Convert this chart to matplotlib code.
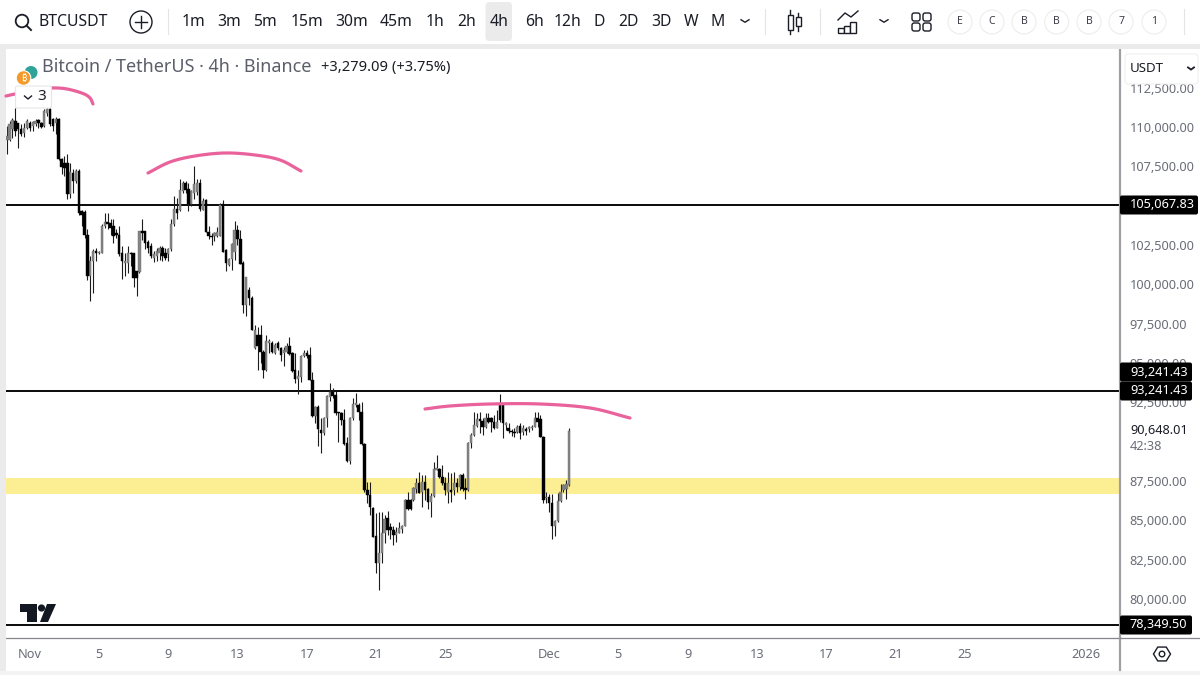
import numpy as np
import pandas as pd
import matplotlib
matplotlib.use("Agg")
import matplotlib.pyplot as plt
from matplotlib.patches import Rectangle, FancyBboxPatch, Circle, Polygon

plt.rcParams['font.family'] = ['Noto Sans', 'DejaVu Sans']

opens = [
109170,109210,109850,110380,110270,109850,109640,109960,110270,110060,
110170,110440,110270,110060,110910,111160,110490,110270,110530,107940,
107730,107730,105720,107090,106560,107200,104660,104590,103170,100520,
101480,102110,102010,102010,103700,103960,103910,103700,103280,103170,
102010,101370,101370,102010,102010,100840,100780,103380,103380,102680,
102430,101690,101790,102010,102320,102010,101960,102220,103810,104800,
104760,105930,106460,106080,105080,105820,105900,106460,104740,105340,
103360,103090,103050,103050,103090,105120,102200,101240,101600,102090,
103470,102880,101350,98700,99650,99120,95940,96790,96790,95730,
94570,96260,96300,95630,96260,95940,95630,95730,96110,95630,
94570,93990,94140,95420,95630,95520,93930,91630,92180,90740,
90530,91480,92860,93180,92960,91900,91840,91380,89890,88790,
91480,92330,92330,91900,89850,86930,86610,85760,84000,82260,
82900,84170,85130,84550,84380,84070,84210,84425,84640,86290,
86290,86290,86970,87350,86820,87460,86970,86190,86550,88220,
88240,87780,87390,86820,86930,86930,87350,87140,87880,87030,
86930,89890,90420,91010,91420,91330,90910,91520,91480,91270,
90850,92330,92330,91060,90850,90700,90630,90630,90990,90630,
90800,90780,90890,90950,91480,91420,90320,86390,86500,86120,
84630,84970,86250,86920,86970,87240]
highs = [
110060,110380,110590,111230,110270,110170,110270,110530,110380,110380,
110490,110530,110320,111120,111230,111230,110590,110650,110590,108050,
108150,108320,107730,107310,107310,107310,104760,104700,103490,101790,
102220,102320,102110,103810,104550,104550,104130,104170,103490,103700,
102430,102010,102430,102050,102010,100840,103380,104130,103380,102850,
102640,102110,102320,102430,102430,102320,102320,104130,105610,105500,
106670,106560,106560,106460,106030,107520,106670,106670,105480,105420,
103680,103260,103360,103640,105170,105340,102240,101670,102620,104060,
103790,103470,101460,100500,99820,99230,97430,97320,97430,95840,
96790,96520,96430,96260,96430,96050,96050,96260,96640,95730,
95630,94570,95520,95840,95840,96050,94460,92270,92330,91480,
91540,92960,93750,93390,93240,91900,91900,92050,90320,91540,
92750,93070,92430,92540,89890,87460,87460,85870,85440,85550,
85550,85340,85610,84810,84640,84600,84910,84700,86330,86820,
86330,87140,87670,88090,87880,87880,87030,86715,88730,89150,
88300,88520,87780,88090,87990,88090,87670,87950,87990,87670,
90000,90530,91860,91800,91860,91480,91800,91800,91540,91690,
92010,93030,92390,91270,91160,90780,90850,91060,91160,91060,
90950,90990,91060,91900,91860,91690,90360,86820,86670,86670,
85020,86710,87310,87310,87560,90890]
lows = [
108260,109110,109320,109430,108680,109430,109380,109850,109740,109740,
110060,109960,109960,110020,110700,110060,109740,109530,107900,106990,
106880,105440,105500,105820,106460,104440,103700,102960,100310,98930,
99460,101480,101900,102010,103600,103490,103170,102640,102960,101790,
100350,100520,100730,101160,99840,99250,100730,102850,102220,102010,
101690,101410,101480,101580,101480,101580,101480,102110,103700,104130,
104660,105820,105820,104660,105010,105400,105700,104660,104700,103320,
102880,102520,102730,103000,103050,102030,100820,101140,100930,101560,
102520,101270,98170,98000,98700,97070,95880,94570,94990,94040,
94520,95630,95630,95580,95840,95100,94820,95630,95520,94460,
93760,93040,93820,95370,95310,93890,91590,91160,89720,89260,
90420,90910,92600,92750,91690,90000,91060,89790,88730,88580,
91380,92220,91380,89790,86820,86080,85340,83960,81630,80570,
82260,83540,84070,83790,83430,83640,84170,84170,84640,85660,
85660,86250,86720,86710,85870,86290,85700,85190,86500,88200,
87670,87240,86610,86080,86190,86610,86820,86930,86880,86330,
86880,89570,90360,90950,90530,90420,90850,91200,90630,90780,
90850,91270,90210,90740,90570,90360,90320,90530,90150,90420,
90420,90630,90740,90910,90950,90270,86120,86080,85550,83790,
84000,84910,86180,86820,86330,87180]
closes = [
109430,110170,110440,109740,109850,109530,109960,110380,109960,110320,
110380,110270,110020,111020,111120,110170,110060,110530,107940,107480,
107410,105720,107140,106560,107200,104550,104440,103170,100520,101480,
102110,102010,102050,103700,103960,103810,103600,103070,103170,101900,
101480,101460,102010,101900,100420,100420,103380,103280,102640,102320,
101790,101900,102110,102320,101790,101690,102220,103810,104800,104550,
106030,106460,106030,105080,105930,106350,106460,104800,105270,103360,
103090,103000,103260,103300,105060,102090,101350,101600,102580,103470,
102880,101310,98700,100460,99120,97110,97110,96110,95730,94570,
96370,96430,95670,96160,95940,95520,95840,96110,95580,94520,
93990,94180,95460,95630,95420,93930,91630,92180,90780,90530,
91480,92900,93180,92900,91840,91840,91380,89850,88790,91480,
92390,92430,91900,89850,86920,86610,85870,83960,82260,82900,
84170,85060,84380,84380,84070,84280,84490,84640,86290,85700,
85700,87030,87350,86760,87460,86930,86190,86550,88240,88305,
87780,87350,86930,87350,86820,87350,87140,87880,86970,86930,
89890,90420,91060,91420,91330,90910,91480,91270,91270,90850,
91270,91400,91160,91160,90700,90590,90530,90950,90570,90850,
90700,90910,90950,91480,91270,90320,86290,86500,86120,84630,
84970,86250,86820,87240,87300,90648]

level_prices = [105067.83, 93241.43, 78349.50]
zone_low, zone_high = 86650, 87700
price_ticks = [80000, 82500, 85000, 87500, 92500, 95000, 97500, 100000,
               102500, 107500, 110000, 112500]
time_labels = {"2025-11-01": "Nov", "2025-11-05": "5", "2025-11-09": "9", "2025-11-13": "13",
               "2025-11-17": "17", "2025-11-21": "21", "2025-11-25": "25", "2025-12-01": "Dec",
               "2025-12-05": "5", "2025-12-09": "9", "2025-12-13": "13", "2025-12-17": "17",
               "2025-12-21": "21", "2025-12-25": "25", "2026-01-01": "2026"}
timeframes = ["1m", "3m", "5m", "15m", "30m", "45m", "1h", "2h", "4h", "6h", "12h", "D", "2D", "3D", "W", "M"]
timeframe_x = [193, 229, 265, 307, 352, 396, 435, 467, 499, 534, 567, 599, 628, 661, 691, 718]

n = len(closes)
times = pd.date_range(end="2025-12-02 04:00", periods=n, freq="4h")
bar_index = np.arange(n)
o, h, l, c = map(np.array, (opens, highs, lows, closes))

fig = plt.figure(figsize=(12, 6.75), dpi=100, facecolor="white")
ax = fig.add_axes([6/1200, 1-638/675, 1114/1200, 590/675], zorder=1)
ax.set_xlim(-0.24, 385.9)
ax.set_ylim(77520, 115027)

# zone and levels
ax.axhspan(zone_low, zone_high, color="#fcef93", lw=0, zorder=1)
for p in level_prices:
    ax.axhline(p, color="black", lw=1.35, zorder=2)

# candles
up = c >= o
ax.vlines(bar_index, l, h, color="#1c1c1c", lw=0.8, zorder=3)
ax.bar(bar_index[up], (c-o)[up], bottom=o[up], width=0.78, color="#858585",
       edgecolor="#6a6a6a", lw=0.3, zorder=4)
ax.bar(bar_index[~up], (c-o)[~up], bottom=o[~up], width=0.85, color="black",
       edgecolor="black", lw=0.3, zorder=4)

# axes
for s in ("top", "left"):
    ax.spines[s].set_visible(False)
ax.spines["bottom"].set_color("#85858c")
ax.spines["bottom"].set_linewidth(0.9)
ax.spines["right"].set_color("#a0a0a4")
ax.spines["right"].set_linewidth(1.6)
ax.yaxis.tick_right()
ax.set_yticks(price_ticks)
ax.set_yticklabels([f"{v:,.2f}" for v in price_ticks])
ax.tick_params(axis="y", length=0, pad=7, labelsize=9.2, labelcolor="#6a6d78")
tick_pos = [(pd.Timestamp(d) - times[0]) / pd.Timedelta(hours=4) for d in time_labels]
ax.set_xticks(tick_pos)
ax.set_xticklabels(list(time_labels.values()))
ax.tick_params(axis="x", length=0, pad=7, labelsize=9.2, labelcolor="#6a6d78")
ax.get_xticklabels()[-1].set_fontweight("bold")

# screenshot chrome in pixel space
ov = fig.add_axes([0, 0, 1, 1], zorder=2)
ov.set_xlim(0, 1200)
ov.set_ylim(675, 0)
ov.axis("off")
ov.patch.set_alpha(0)

ov.add_patch(Rectangle((0, 44), 1200, 4.5, color="#ebebeb", lw=0))
ov.add_patch(Rectangle((0, 44), 5.5, 631, color="#ebebeb", lw=0))
ov.add_patch(Rectangle((0, 671), 1200, 4, color="#f3f3f3", lw=0))
ov.plot([1119.5, 1119.5], [638, 670], color="#a0a0a4", lw=1.6)
ov.plot([1120, 1200], [638, 638], color="#85858c", lw=0.9)


def smooth(points, steps=16):
    p = np.array(points, float)
    p = np.vstack([2*p[0]-p[1], p, 2*p[-1]-p[-2]])
    out = []
    for i in range(1, len(p)-2):
        for t in np.linspace(0, 1, steps, endpoint=False):
            out.append(0.5*((2*p[i]) + (p[i+1]-p[i-1])*t
                            + (2*p[i-1]-5*p[i]+4*p[i+1]-p[i+2])*t**2
                            + (3*p[i]-p[i-1]-3*p[i+1]+p[i+2])*t**3))
    out.append(p[-2])
    return np.array(out)


arcs = [[(6, 96), (15, 94), (35, 90), (52, 88), (67, 89), (83, 93.5), (90, 98), (93, 104)],
        [(148, 173), (170, 162), (195, 156), (225, 153), (255, 155), (280, 160), (301, 171)],
        [(425, 409), (450, 406), (490, 404), (540, 404), (590, 408), (630, 418)]]
for a in arcs:
    s = smooth(a)
    ov.plot(s[:, 0], s[:, 1], color="#e9629c", lw=2.3, solid_capstyle="round")

# top toolbar
TXT = "#1b1d26"
ov.add_patch(Circle((22, 21), 6.3, fill=False, ec=TXT, lw=1.3))
ov.plot([26.5, 31], [25.5, 30], color=TXT, lw=1.4)
ov.text(39, 22, "BTCUSDT", fontsize=11.4, fontweight="bold", color=TXT, va="center")
ov.add_patch(Circle((141, 22), 11, fill=False, ec=TXT, lw=1))
ov.plot([135, 147], [22, 22], color=TXT, lw=1)
ov.plot([141, 141], [16, 28], color=TXT, lw=1)
for sx in (168, 765, 820, 1184):
    ov.plot([sx, sx], [9, 34], color="#e4e4e4", lw=0.8)
ov.add_patch(FancyBboxPatch((485.5, 2), 26.5, 39, boxstyle="round,pad=0,rounding_size=4",
                            fc="#ebebeb", ec="none"))
for lab, tx in zip(timeframes, timeframe_x):
    ov.text(tx, 22, lab, fontsize=11.3, color=TXT, ha="center", va="center")


def chevron(x, y, w=4, d=2.5, lw=1.0, col=TXT, z=2):
    ov.plot([x-w, x, x+w], [y-d/2, y+d/2, y-d/2], color=col, lw=lw, zorder=z)


chevron(745, 21)
chevron(884, 21)
# candle icon
ov.plot([790, 790], [10, 34], color=TXT, lw=1)
ov.add_patch(Rectangle((787.5, 15), 5, 15, fc="white", ec=TXT, lw=1, zorder=2.5))
ov.plot([798, 798], [13, 31], color=TXT, lw=1)
ov.add_patch(Rectangle((795.5, 17), 5, 9, fc="white", ec=TXT, lw=1, zorder=2.5))
# chart-type icon
ov.plot([838, 845, 851, 858], [20, 13, 17, 11], color=TXT, lw=1)
for bx, bt in ((838, 28), (844, 26), (850, 22)):
    ov.add_patch(Rectangle((bx, bt), 6, 33-bt, fc="white", ec=TXT, lw=1))
# grid icon
for gx in (912, 923):
    for gy in (13, 23):
        ov.add_patch(FancyBboxPatch((gx, gy), 8, 8, boxstyle="round,pad=0,rounding_size=2.2",
                                    fc="white", ec=TXT, lw=1))
for lab, cx in zip("ECBBB71", (960, 992, 1024, 1056.6, 1089, 1121, 1154)):
    ov.add_patch(Circle((cx, 22), 12, fc="white", ec="#ededed", lw=0.8))
    ov.text(cx, 22, lab, fontsize=7.5, color="#3c3e48", ha="center", va="center")

# legend row
ov.add_patch(Circle((31, 72.5), 6.5, fc="#2fa39a", ec="none"))
ov.add_patch(Circle((23.5, 78), 7.3, fc="#f39a2b", ec="white", lw=0.8))
ov.text(23.5, 78.5, "₿", fontsize=6.5, color="white", ha="center", va="center", fontweight="bold")
ov.text(42, 67, "Bitcoin / TetherUS · 4h · Binance", fontsize=12.95, color="#5c5f6a", va="center")
ov.text(321, 67, "+3,279.09 (+3.75%)", fontsize=10.6, color=TXT, va="center")

ov.add_patch(FancyBboxPatch((15.5, 86), 36, 22, boxstyle="round,pad=0,rounding_size=2",
                            fc="white", ec="#e6e6e6", lw=0.8, zorder=3))
chevron(28, 97.5, 3.5, 3, 1.0, z=4)
ov.text(42, 97, "3", fontsize=11, color=TXT, ha="center", va="center", zorder=4)

# USDT button
ov.add_patch(FancyBboxPatch((1125, 54), 73, 30, boxstyle="round,pad=0,rounding_size=3",
                            fc="white", ec="#efefef", lw=0.8))
ov.text(1130, 68, "USDT", fontsize=9.6, color=TXT, va="center")
chevron(1191, 68.5, 3, 2.2, 1.3)

# price labels
for y, txt, right in ((205, "105,067.83", 1198), (372, "93,241.43", 1192),
                      (391, "93,241.43", 1192), (625, "78,349.50", 1192)):
    ov.add_patch(FancyBboxPatch((1120, y-9.5), right-1120, 19, boxstyle="round,pad=0,rounding_size=2",
                                fc="black", ec="none"))
    ov.text(1130, y, txt, fontsize=9.2, color="white", va="center")
ov.text(1130, 431, "90,648.01", fontsize=9.2, color=TXT, va="center")
ov.text(1130, 446, "42:38", fontsize=9.2, color="#6a6d78", va="center")

# watermark logo
ov.add_patch(Polygon([(20, 604), (37, 604), (37, 622), (27, 622), (27, 612), (20, 612)], fc="#131722", ec="none"))
ov.add_patch(Circle((41.5, 608), 3.6, fc="#131722", ec="none"))
ov.add_patch(Polygon([(47, 604), (56, 604), (48, 622), (40, 622)], fc="#131722", ec="none"))

# settings hexagon
ang = np.deg2rad(np.arange(0, 360, 60))
ov.add_patch(Polygon(np.c_[1162 + 8.5*np.cos(ang), 654 + 8*np.sin(ang)], fill=False, ec=TXT, lw=1))
ov.add_patch(Circle((1162, 654), 2.8, fill=False, ec=TXT, lw=1))

fig.savefig("out.png", dpi=100)
